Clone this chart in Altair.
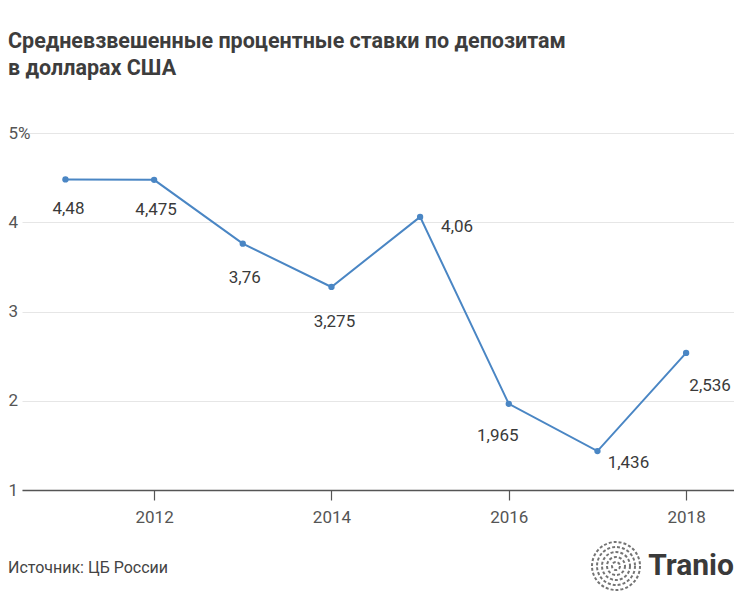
import altair as alt
import pandas as pd

years = [2011, 2012, 2013, 2014, 2015, 2016, 2017, 2018]
rates = [4.48, 4.475, 3.76, 3.275, 4.06, 1.965, 1.436, 2.536]
label_dx = [3, 2, 2, 3, 37, -11, 31, 24]
label_dy = [30, 30, 34, 35, 10, 32, 12, 33]
x_ticks = [2012, 2014, 2016, 2018]
y_ticks = [1, 2, 3, 4, 5]

title_lines = ["Средневзвешенные процентные ставки по депозитам", "в долларах США"]
source_text = "Источник: ЦБ России"
brand = "Tranio"

FONT = "Roboto"
LINE = "#4a86c4"

df = pd.DataFrame({
    "year": years,
    "rate": rates,
    "label": [str(v).replace(".", ",") for v in rates],
})

xs = alt.Scale(domain=[2010.51, 2018.54], nice=False, zero=False)
ys = alt.Scale(domain=[1, 5], nice=False, zero=False)

x_axis = alt.Axis(values=x_ticks, format="d", grid=False, domain=True, domainColor="#555",
                  domainWidth=1.5, ticks=True, tickColor="#555", tickSize=10, tickWidth=1.2,
                  labelFont=FONT, labelFontSize=17, labelColor="#555", labelPadding=9, title=None)
y_axis = alt.Axis(values=y_ticks, grid=True, gridColor="#e6e6e6", gridWidth=1, domain=False,
                  ticks=False, labelAlign="left", labelPadding=14, labelBaseline="middle",
                  labelFont=FONT, labelFontSize=17, labelColor="#555",
                  labelExpr="datum.value == 5 ? '5%' : format(datum.value, 'd')", title=None)

base = alt.Chart(df)
line = base.mark_line(color=LINE, strokeWidth=2).encode(
    x=alt.X("year:Q", scale=xs, axis=x_axis),
    y=alt.Y("rate:Q", scale=ys, axis=y_axis),
)
pts = base.mark_point(filled=True, color=LINE, size=40, opacity=1).encode(
    x=alt.X("year:Q", scale=xs), y=alt.Y("rate:Q", scale=ys)
)

label_layers = []
for i in range(len(years)):
    sub = alt.Chart(df.iloc[[i]]).mark_text(
        font=FONT, fontSize=17, color="#3a3a3a", dx=label_dx[i], dy=label_dy[i],
        align="center", baseline="middle"
    ).encode(x=alt.X("year:Q", scale=xs), y=alt.Y("rate:Q", scale=ys), text="label:N")
    label_layers.append(sub)

one = alt.Data(values=[{}])
src = alt.Chart(one).mark_text(font=FONT, fontSize=16, color="#444", align="left",
                               baseline="middle", text=source_text).encode(
    x=alt.value(-14), y=alt.value(435))
brand_txt = alt.Chart(one).mark_text(font=FONT, fontSize=30, fontWeight="bold", color="#3a3a3a",
                                     align="right", baseline="middle", text=brand).encode(
    x=alt.value(712), y=alt.value(433))
rings = []
for d in [48, 38, 28, 18, 8]:
    rings.append(alt.Chart(one).mark_point(shape="circle", filled=False, color="#3a3a3a",
                                           strokeWidth=2, strokeDash=[3, 2], size=d * d).encode(
        x=alt.value(594), y=alt.value(433)))

chart = alt.layer(line, pts, *label_layers, src, brand_txt, *rings).properties(
    width=712, height=357, autosize="none",
    padding={"left": 14, "top": 125, "right": 0, "bottom": 110},
    title=alt.TitleParams(text=title_lines, anchor="start", font=FONT, fontSize=21.5,
                          fontWeight="bold", color="#3d3d3d", offset=45, lineHeight=27),
).configure_view(stroke=None)

chart.save("out.html", embed_options={"renderer": "svg", "actions": False})
